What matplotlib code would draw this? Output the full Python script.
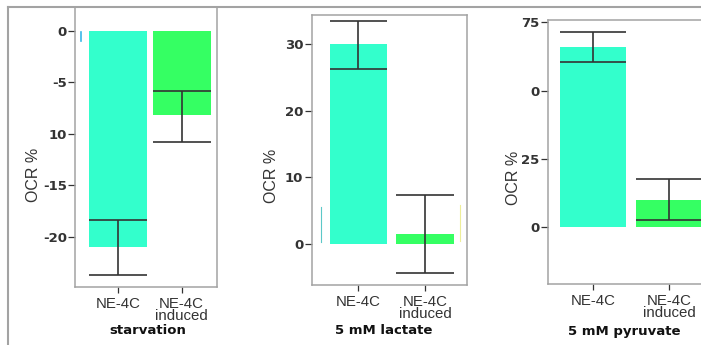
import matplotlib
matplotlib.use("Agg")
import matplotlib.pyplot as plt
from matplotlib.lines import Line2D

# data
groups = ["NE-4C", "NE-4C\ninduced"]
bar_colors = ["#33FFCC", "#35FF63"]

starv_mean = [-21.0, -8.2]
starv_hi = [-18.4, -5.8]
starv_lo = [-23.7, -10.75]
starv_ticks = [0, -5, -10, -15, -20]
starv_ticklabels = ["0", "-5", "10", "-15", "-20"]

lact_mean = [30.1, 1.5]
lact_hi = [33.5, 7.35]
lact_lo = [26.3, -4.3]
lact_ticks = [0, 10, 20, 30]
lact_ticklabels = ["0", "10", "20", "30"]

pyr_mean = [66.1, 9.8]
pyr_hi = [71.4, 17.4]
pyr_lo = [60.6, 2.5]
pyr_ticks = [0, 25, 50, 75]
pyr_ticklabels = ["0", "25", "0", "75"]

titles = ["starvation", "5 mM lactate", "5 mM pyruvate"]

W, H = 701, 345
fig = plt.figure(figsize=(W / 100, H / 100), dpi=100)
fig.patch.set_facecolor("white")

GREY = "#A3A3A3"
DARK = "#333333"


def px_axes(x0, y0, x1, y1):
    return fig.add_axes([x0 / W, 1 - y1 / H, (x1 - x0) / W, (y1 - y0) / H])


def draw_panel(ax, mean, hi, lo, width, ticks, ticklabels, xlim, ylim, spines):
    xs = list(range(len(mean)))
    ax.bar(xs, mean, width=width, color=bar_colors, edgecolor="none", zorder=2)
    ax.vlines(xs, lo, hi, color=DARK, lw=1.2, zorder=3)
    for x, a, b in zip(xs, lo, hi):
        ax.hlines([a, b], x - width / 2, x + width / 2, color=DARK, lw=1.2, zorder=3)
    ax.set_xlim(*xlim)
    ax.set_ylim(*ylim)
    ax.set_xticks(xs)
    ax.set_xticklabels(groups, fontsize=10.8, color=DARK, family="Liberation Sans",
                       linespacing=0.82)
    ax.set_yticks(ticks)
    ax.set_yticklabels(ticklabels, fontsize=9.5, color=DARK, fontweight="bold",
                       family="DejaVu Sans")
    ax.tick_params(axis="y", length=5, width=0.9, color=DARK, pad=1)
    ax.tick_params(axis="x", length=4, width=0.9, color=DARK, pad=3)
    for name, sp in ax.spines.items():
        sp.set_color(GREY)
        sp.set_linewidth(1.1)
        sp.set_visible(name in spines)


# panel 1: starvation
ax1 = px_axes(75.3, 7, 216.7, 287)
draw_panel(ax1, starv_mean, starv_hi, starv_lo, 0.91, starv_ticks, starv_ticklabels,
           (-0.67, 1.55), (-24.85, 2.3), ("left", "right", "bottom"))
ax1.plot([-0.58, -0.58], [-0.1, -1.0], color="#3BB8E8", lw=1.2)

# panel 2: lactate
ax2 = px_axes(311.7, 15, 467, 285)
draw_panel(ax2, lact_mean, lact_hi, lact_lo, 0.865, lact_ticks, lact_ticklabels,
           (-0.70, 1.63), (-6.16, 34.4), ("left", "right", "bottom", "top"))
ax2.plot([-0.56, -0.56], [0.3, 5.5], color="#5CC8C8", lw=0.8)
ax2.plot([1.52, 1.52], [0.5, 5.8], color="#EEEE99", lw=0.8)

# panel 3: pyruvate (cut off at the right edge)
ax3 = px_axes(548, 20, 745, 284)
draw_panel(ax3, pyr_mean, pyr_hi, pyr_lo, 0.87, pyr_ticks, pyr_ticklabels,
           (-0.59, 2.0), (-21.0, 75.9), ("left", "bottom", "top"))

# y labels and panel titles
for x, y in [(33.5, 175), (271, 176), (514, 178)]:
    fig.text(x / W, 1 - y / H, "OCR %", rotation=90, ha="center", va="center",
             fontsize=11.5, color=DARK, family="Liberation Sans")
for x, t in zip([148, 384, 624], titles):
    fig.text(x / W, 1 - 331 / H, t, ha="center", va="center", fontsize=9.5,
             fontweight="bold", color="#111111", family="DejaVu Sans")

# outer screenshot frame
fig.add_artist(Line2D([8 / W, 1], [1 - 7 / H, 1 - 7 / H], transform=fig.transFigure,
                      color=GREY, lw=1.5))
fig.add_artist(Line2D([8 / W, 8 / W], [0, 1 - 7 / H], transform=fig.transFigure,
                      color=GREY, lw=1.5))

fig.savefig("out.png", dpi=100, facecolor="white")
